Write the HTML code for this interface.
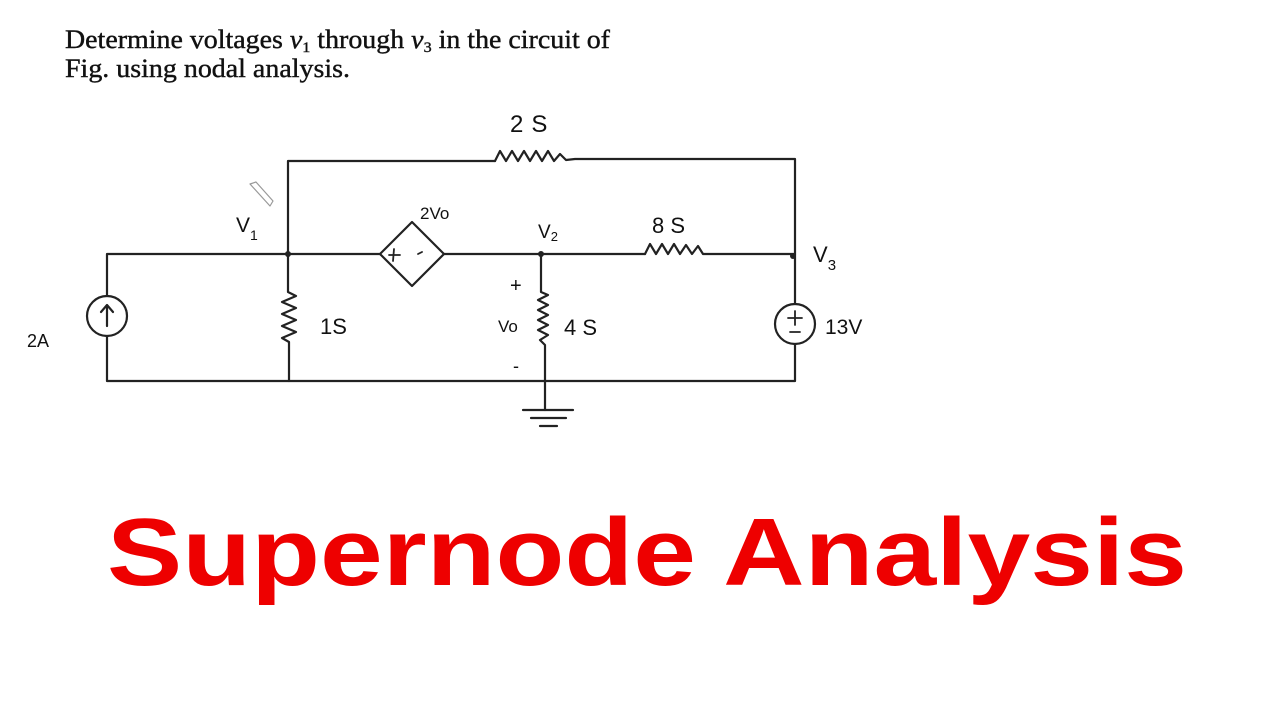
<!DOCTYPE html>
<html><head><style>
html,body{margin:0;padding:0;background:#fff;}
svg{display:block;}
.h{font-family:"Liberation Sans",sans-serif;fill:#111;}
</style></head><body>
<svg width="1280" height="720" viewBox="0 0 1280 720" xmlns="http://www.w3.org/2000/svg">
<rect width="1280" height="720" fill="#fff"/>
<g font-family="Liberation Serif,serif" font-size="26" fill="#111" stroke="#111" stroke-width="0.4">
<text x="65" y="48" textLength="545" lengthAdjust="spacingAndGlyphs">Determine voltages <tspan font-style="italic">v</tspan><tspan font-size="15" dy="4">1</tspan><tspan dy="-4"> through </tspan><tspan font-style="italic">v</tspan><tspan font-size="15" dy="4">3</tspan><tspan dy="-4"> in the circuit of</tspan></text>
<text x="65" y="77" textLength="285" lengthAdjust="spacingAndGlyphs">Fig.  using nodal analysis.</text>
</g>
<g stroke="#222" stroke-width="2.2" fill="none" stroke-linejoin="round" stroke-linecap="round">
<polyline points="288,254 288,161 495,161"/>
<polyline points="495,161 500,151 506,161 512,151 518,161 524,151 530,161 536,151 542,161 548,151 554,161 560,154 566,160 575,159 795,159 795,254"/>
<polyline points="107,296 107,254 380,254"/>
<polygon points="380,254 412,222 444,254 412,286"/>
<polyline points="444,254 645,254"/>
<polyline points="645,254 650,244 656,254 662,244 668,254 674,244 680,254 686,245 692,254 698,246 703,254 708,254 795,254 795,304"/>
<circle cx="107" cy="316" r="20"/>
<polyline points="107,336 107,381 795,381 795,344"/>
<line x1="107" y1="326" x2="107" y2="306"/>
<polyline points="101,312 107,305 113,312"/>
<polyline points="288,254 288,292 296,296 282,302 296,308 282,314 296,320 282,326 296,332 282,338 289,342 289,381"/>
<polyline points="541,254 541,292 548,295 538,300 548,305 538,310 548,315 538,320 548,325 538,330 548,335 540,340 545,345 545,410"/>
<line x1="523" y1="410" x2="573" y2="410"/>
<line x1="531" y1="418" x2="566" y2="418"/>
<line x1="540" y1="426" x2="557" y2="426"/>
<circle cx="795" cy="324" r="20"/>
<line x1="788" y1="318" x2="802" y2="318" stroke-width="1.8"/>
<line x1="795" y1="311" x2="795" y2="325" stroke-width="1.8"/>
<line x1="790" y1="332" x2="800" y2="332" stroke-width="1.8"/>
<line x1="389" y1="255" x2="400" y2="255" stroke-width="1.8"/>
<line x1="394" y1="249" x2="393" y2="261" stroke-width="1.8"/>
<line x1="418" y1="254" x2="422" y2="252" stroke-width="1.8"/>
<polygon points="250,184 256,182 273,201 270,206" stroke-width="1.2" stroke="#999"/>
</g>
<g fill="#222">
<circle cx="288" cy="254" r="3"/>
<circle cx="541" cy="254" r="3"/>
<circle cx="793" cy="256" r="3"/>
</g>
<g class="h">
<text x="510" y="132" font-size="24">2<tspan dx="8">S</tspan></text>
<text x="236" y="232" font-size="21">V<tspan font-size="14" dy="8">1</tspan></text>
<text x="420" y="219" font-size="17">2Vo</text>
<text x="538" y="238" font-size="19">V<tspan font-size="13" dy="3">2</tspan></text>
<text x="652" y="233" font-size="22">8 S</text>
<text x="813" y="262" font-size="22">V<tspan font-size="15" dy="8">3</tspan></text>
<text x="320" y="334" font-size="22">1S</text>
<text x="510" y="292" font-size="20">+</text>
<text x="498" y="332" font-size="17">Vo</text>
<text x="513" y="372" font-size="18">-</text>
<text x="564" y="335" font-size="22">4 S</text>
<text x="825" y="334" font-size="21">13V</text>
<text x="27" y="347" font-size="18">2A</text>
</g>
<text x="107" y="585" font-family="Liberation Sans,sans-serif" font-weight="bold" font-size="96" fill="#ee0000" textLength="1080" lengthAdjust="spacingAndGlyphs">Supernode Analysis</text>
</svg>
</body></html>
